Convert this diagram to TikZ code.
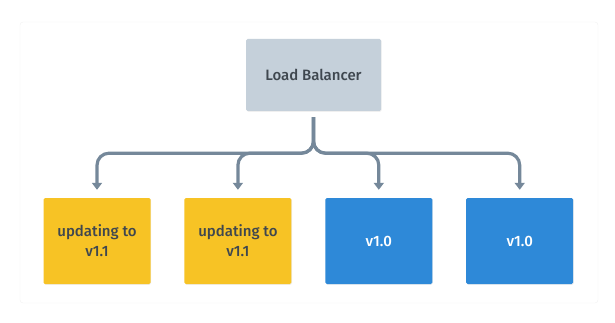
\documentclass[tikz,border=0pt]{standalone}
\usepackage{fontspec}
\setmainfont{Fira Sans}
\newfontfamily\medfont{Fira Sans Medium}
\usetikzlibrary{positioning,arrows.meta,shadows}

\definecolor{lbfill}{HTML}{C5D0DA}
\definecolor{updfill}{HTML}{F7C325}
\definecolor{oldfill}{HTML}{2E89D8}
\definecolor{arcgray}{HTML}{75889A}
\definecolor{txtdark}{HTML}{3F474F}

\begin{document}
\begin{tikzpicture}[x=1pt,y=-1pt,
  box/.style={rectangle,rounded corners=1.5pt,minimum width=107pt,minimum height=86pt,
    inner sep=0pt,align=center,font=\medfont\fontsize{15}{20}\selectfont,
    drop shadow={opacity=0.12,shadow xshift=0.6pt,shadow yshift=-0.8pt}},
  lbbox/.style={box,fill=lbfill,text=txtdark,minimum width=135pt,minimum height=72pt},
  upd/.style={box,fill=updfill,text=txtdark},
  old/.style={box,fill=oldfill,text=white},
  arc/.style={draw=arcgray,line width=3.2pt,rounded corners=12pt,
    -{Triangle[width=10pt,length=7pt]},shorten <=6pt,shorten >=8pt}]
  \useasboundingbox (0,0) rectangle (615,323);
  % panel behind the diagram
  \fill[white,draw=black!5,rounded corners=3pt] (20,22) rectangle (598,303);
  \node[lbbox] (lb) at (313.5,75) {Load Balancer};
  \node[upd] (u1) at (97,241) {updating to\\v1.1};
  \node[upd,right=33.5pt of u1] (u2) {updating to\\v1.1};
  \node[old,right=33.5pt of u2] (o1) {v1.0};
  \node[old,right=33.5pt of o1] (o2) {v1.0};
  \foreach \t in {u1,u2,o1,o2}
    \draw[arc] (lb.south) -- ++(0,42) -| (\t.north);
\end{tikzpicture}
\end{document}
